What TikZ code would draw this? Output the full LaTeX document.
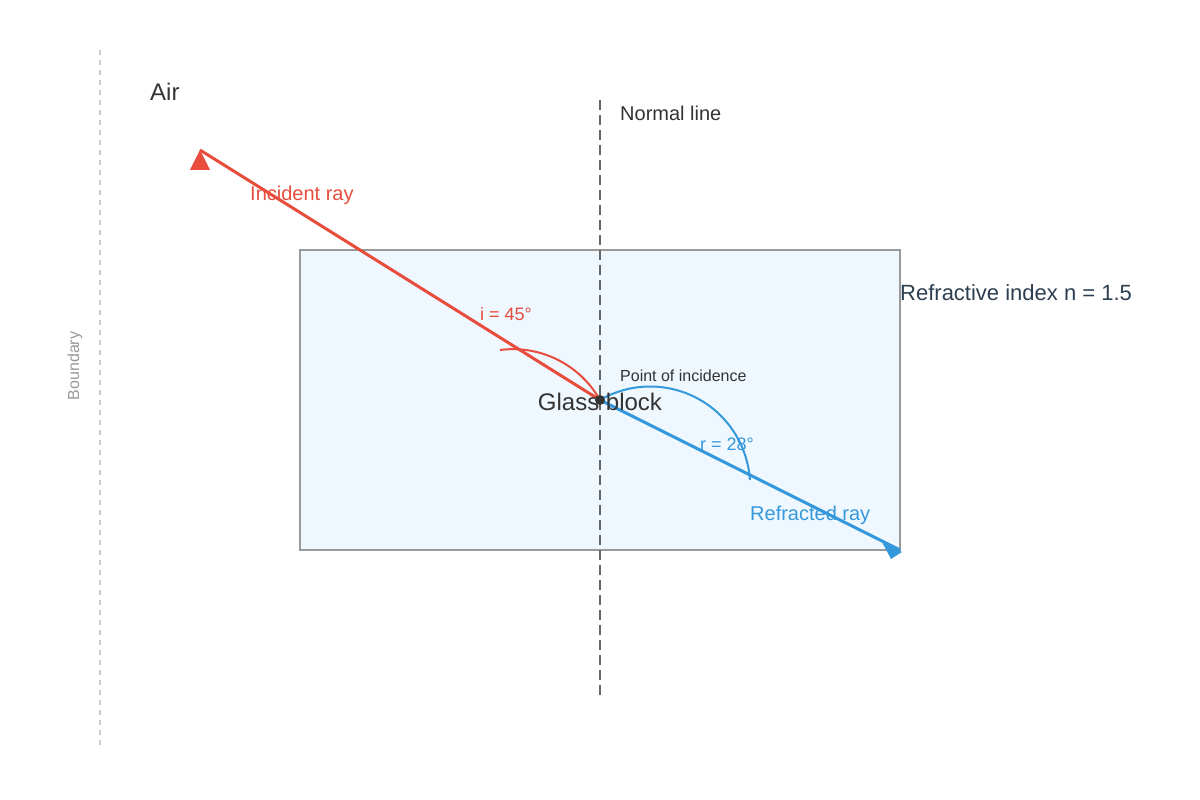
\documentclass[tikz,border=0pt]{standalone}
\usepackage{fontspec}
\setmainfont{Liberation Sans}
\definecolor{rayred}{HTML}{E74C3C}
\definecolor{rayblue}{HTML}{3498DB}
\definecolor{inkdark}{HTML}{333333}
\definecolor{inkslate}{HTML}{2C3E50}
\definecolor{glassfill}{HTML}{F0F8FF}
\definecolor{glassedge}{HTML}{999999}
\tikzset{every node/.style={inner sep=0pt, anchor=base west},
  txt/.style={font=\fontsize{#1}{#1}\selectfont}, 
  ray/.style={line width=3pt}, angarc/.style={line width=2pt}}

\begin{document}
\begin{tikzpicture}[x=1pt,y=1pt]
   \useasboundingbox (0,0) rectangle (1200,800);
   \coordinate (bndtop) at (100,750);
   \coordinate (bndbot) at (100,55);
   \coordinate (nrmtop) at (600,700);
   \coordinate (nrmbot) at (600,105);
   \coordinate (src) at (200,650);
   \coordinate (poi) at (600,400);
   \coordinate (exitpt) at (900,250);
   \draw[black!20,line width=1.5pt,dash pattern=on 5pt off 5pt] (bndtop) -- (bndbot);
   \draw[glassedge,fill=glassfill,line width=2pt] (300,250) rectangle (900,550);
   \draw[black!60,line width=2pt,dash pattern=on 10pt off 5pt] (nrmtop) -- (nrmbot);
   \draw[rayred,ray] (src) -- (poi);
   \draw[rayblue,ray] (poi) -- (exitpt);
   \fill[rayred] (src) -- (190,630) -- (210,630) -- cycle;
   \fill[rayblue] (882,258) -- (902,248) -- (891,241) -- cycle;
   \draw[rayred,angarc] (500,450) arc[start angle=97.4,end angle=29.4,radius=100];
   \draw[rayblue,angarc] (poi) arc[start angle=120.1,end angle=3.7,radius=100];
   \fill[inkdark] (poi) circle (5);
   \node[txt=24,inkdark] (air) at (150,699) {Air};
   \node[txt=20,inkdark] (nrmlbl) at (620,679) {Normal line};
   \node[txt=20,rayred] (inclbl) at (250,599) {Incident ray};
   \node[txt=22,inkslate] (index) at (900,499) {Refractive index n = 1.5};
   \node[txt=18,rayred] (anglei) at (480,479) {i = 45°};
   \node[txt=16,inkdark] (poilbl) at (620,418.5) {Point of incidence};
   \node[txt=24,inkdark,anchor=base] (glass) at (600,389) {Glass block};
   \node[txt=18,rayblue] (angler) at (700,349) {r = 28°};
   \node[txt=20,rayblue] (reflbl) at (750,279) {Refracted ray};
   \node[txt=16,black!40,rotate=90,anchor=center] (bndlbl) at (75,434) {Boundary};
\end{tikzpicture}
\end{document}
